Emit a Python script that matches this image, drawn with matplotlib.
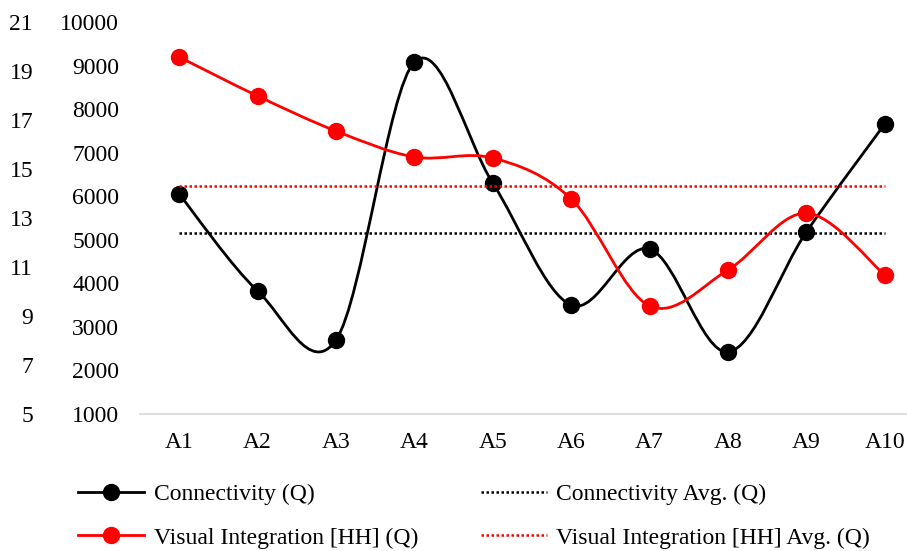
import matplotlib
matplotlib.use("Agg")
import matplotlib.pyplot as plt
from matplotlib.path import Path
from matplotlib.patches import PathPatch
from matplotlib.lines import Line2D

plt.rcParams['font.family'] = ['Liberation Serif', 'DejaVu Serif']
plt.rcParams['font.size'] = 17

categories = ['A1', 'A2', 'A3', 'A4', 'A5', 'A6', 'A7', 'A8', 'A9', 'A10']
connectivity = [6050, 3825, 2700, 9080, 6300, 3500, 4790, 2425, 5180, 7660]
visual_integration = [19.57, 17.98, 16.55, 15.49, 15.45, 13.78, 9.41, 10.88, 13.2, 10.67]
connectivity_avg = sum(connectivity) / len(connectivity)
visual_avg = sum(visual_integration) / len(visual_integration)

conn_ticks = [1000, 2000, 3000, 4000, 5000, 6000, 7000, 8000, 9000, 10000]
vi_ticks = [5, 7, 9, 11, 13, 15, 17, 19, 21]


def smooth_path(xs, ys):
    # excel-ish smoothed line: catmull-rom turned into cubic beziers
    n = len(xs)
    verts = [(xs[0], ys[0])]
    codes = [Path.MOVETO]
    for i in range(n - 1):
        i0 = max(i - 1, 0)
        i3 = min(i + 2, n - 1)
        c1 = (xs[i] + (xs[i + 1] - xs[i0]) / 6, ys[i] + (ys[i + 1] - ys[i0]) / 6)
        c2 = (xs[i + 1] - (xs[i3] - xs[i]) / 6, ys[i + 1] - (ys[i3] - ys[i]) / 6)
        verts += [c1, c2, (xs[i + 1], ys[i + 1])]
        codes += [Path.CURVE4] * 3
    return Path(verts, codes)


fig = plt.figure(figsize=(9.07, 5.51), dpi=100)
ax = fig.add_axes([140 / 907, 1 - 414 / 551, 784 / 907, 392 / 551])
ax2 = ax.twinx()

x = list(range(len(categories)))

# connectivity on the inner axis
ax.add_patch(PathPatch(smooth_path(x, connectivity), facecolor='none',
                       edgecolor='black', lw=2, zorder=3))
ax.plot(x, connectivity, 'o', color='black', ms=11.5, zorder=4)
ax.plot([x[0], x[-1]], [connectivity_avg] * 2, color='black', lw=1.8,
        linestyle=(0, (1, 1)), zorder=2)

# visual integration on the outer axis
ax2.add_patch(PathPatch(smooth_path(x, visual_integration), facecolor='none',
                        edgecolor='#ff0000', lw=2, zorder=3))
ax2.plot(x, visual_integration, 'o', color='#ff0000', ms=11.5, zorder=4)
ax2.plot([x[0], x[-1]], [visual_avg] * 2, color='#ff0000', lw=1.8,
         linestyle=(0, (1, 1)), zorder=2)

ax.set_xlim(-0.5, len(categories) - 0.5)
ax.set_xticks(x)
ax.set_xticklabels(categories)
ax.set_ylim(1000, 10000)
ax.set_yticks(conn_ticks)
ax2.set_ylim(5, 21)
ax2.set_yticks(vi_ticks)

ax.tick_params(axis='x', length=0, pad=13)
ax.tick_params(axis='y', length=0, pad=15)
ax2.yaxis.tick_left()
ax2.tick_params(axis='y', length=0, pad=77)

for a in (ax, ax2):
    for s in a.spines.values():
        s.set_visible(False)
ax.spines['bottom'].set_visible(True)
ax.spines['bottom'].set_color('#d9d9d9')
ax.spines['bottom'].set_linewidth(1.2)

# legend fills column by column, so order it to get the reference rows
handles = [
    Line2D([], [], color='black', lw=2, marker='o', ms=11.5),
    Line2D([], [], color='#ff0000', lw=2, marker='o', ms=11.5),
    Line2D([], [], color='black', lw=1.8, linestyle=(0, (1, 1))),
    Line2D([], [], color='#ff0000', lw=1.8, linestyle=(0, (1, 1))),
]
labels = ['Connectivity (Q)', 'Visual Integration [HH] (Q)',
          'Connectivity Avg. (Q)', 'Visual Integration [HH] Avg. (Q)']
fig.legend(handles, labels, ncol=2, frameon=False, loc='center',
           bbox_to_anchor=(474 / 907, 1 - 516 / 551), handlelength=2.8,
           handletextpad=0.4, columnspacing=2.65, labelspacing=0.95)

fig.savefig('out.png', dpi=100)
